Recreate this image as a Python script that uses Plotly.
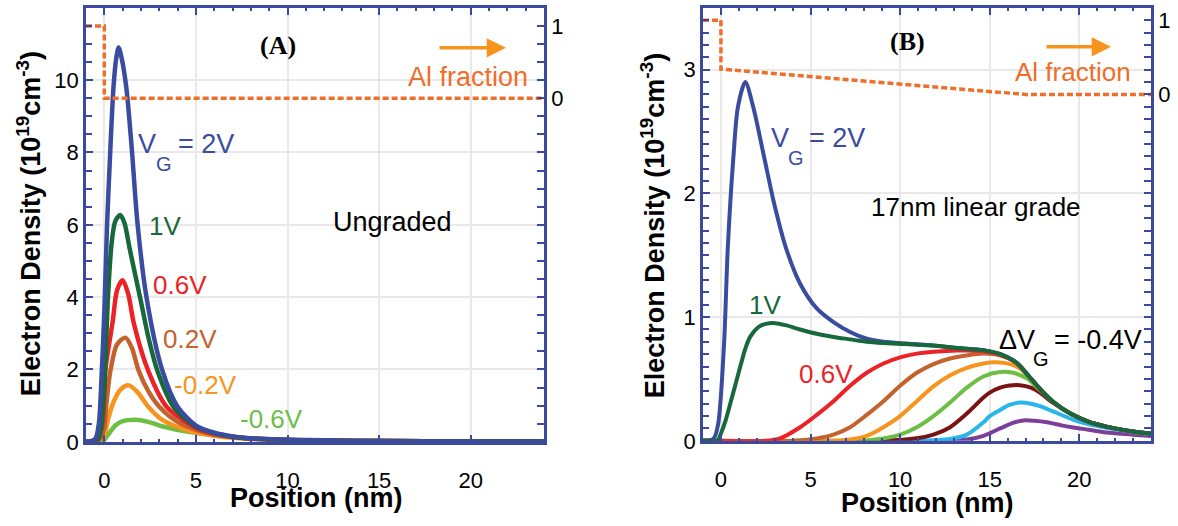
import plotly.graph_objects as go

W, H = 1178, 526

FRAME = "#3B4A9E"
GRID = "#E9E9E9"
FONT = "Liberation Sans, Arial, sans-serif"

# ---------------- Panel A: ungraded barrier ----------------
a_pos_2v = [-1, -0.5, -0.3, -0.15, 0, 0.15, 0.33, 0.5, 0.65, 0.78, 0.95, 1.2, 1.5, 1.8, 2.3, 3.15, 4.0, 5.0, 6.0, 7.0, 8.0, 10, 12, 15, 20, 24]
a_n_2v = [0, 0.08, 0.5, 1.8, 3.6, 6.0, 8.1, 9.8, 10.6, 10.9, 10.6, 9.8, 8.1, 6.1, 4.0, 2.0, 0.97, 0.45, 0.25, 0.15, 0.1, 0.06, 0.04, 0.02, 0.01, 0.005]

a_pos_1v = [-1, -0.4, -0.2, 0, 0.2, 0.4, 0.6, 0.87, 1.1, 1.4, 1.97, 2.4, 2.9, 3.8, 5, 6, 7, 8, 10, 12, 15, 20, 24]
a_n_1v = [0, 0.03, 0.3, 1.5, 4.0, 5.5, 6.1, 6.27, 6.05, 5.3, 3.95, 2.9, 1.96, 0.95, 0.42, 0.24, 0.14, 0.09, 0.05, 0.035, 0.02, 0.01, 0.005]

a_pos_06v = [-1, -0.4, -0.1, 0.05, 0.45, 0.7, 1.0, 1.3, 1.6, 2.4, 3.4, 5, 6, 7, 8, 10, 12, 15, 20, 24]
a_n_06v = [0, 0.02, 0.5, 1.96, 3.3, 4.2, 4.47, 4.1, 3.3, 1.96, 0.97, 0.38, 0.22, 0.14, 0.09, 0.05, 0.035, 0.02, 0.01, 0.005]

a_pos_02v = [-1, -0.3, 0, 0.1, 0.33, 0.7, 1.15, 1.5, 1.88, 2.4, 3.0, 4.0, 5.0, 6, 7, 8, 10, 12, 15, 20, 24]
a_n_02v = [0, 0.02, 0.4, 0.97, 1.96, 2.7, 2.88, 2.6, 1.96, 1.4, 0.97, 0.55, 0.33, 0.2, 0.13, 0.09, 0.05, 0.03, 0.02, 0.01, 0.005]

a_pos_m02v = [-1, -0.2, 0, 0.2, 0.5, 0.9, 1.33, 1.8, 2.4, 3.15, 4.4, 6, 8, 10, 12, 15, 20, 24]
a_n_m02v = [0, 0.01, 0.16, 0.61, 1.1, 1.45, 1.56, 1.38, 0.97, 0.61, 0.34, 0.17, 0.08, 0.05, 0.03, 0.02, 0.01, 0.005]

a_pos_m06v = [-1, -0.1, 0.15, 0.6, 1.0, 1.7, 2.4, 3.15, 4.8, 6.5, 8, 10, 12, 15, 20, 24]
a_n_m06v = [0, 0.0, 0.16, 0.45, 0.57, 0.61, 0.55, 0.43, 0.26, 0.15, 0.09, 0.05, 0.03, 0.02, 0.01, 0.005]

a_al_pos = [-1, 0, 0, 24]
a_al_frac = [1, 1, 0, 0]

# ---------------- Panel B: 17 nm linear grade ----------------
b_pos_2v = [-1, -0.4, -0.15, 0.18, 0.38, 0.7, 0.95, 1.36, 1.8, 2.4, 3.0, 3.65, 4.42, 5.35, 6.28, 7.21, 8.14, 9.07, 10.5, 11.86, 13.2, 14.65, 15.6, 16.5, 17.2, 17.8, 18.5, 19.5, 20.5, 21.5, 23, 24]
b_n_2v = [0, 0.02, 0.14, 0.8, 1.55, 2.3, 2.7, 2.9, 2.7, 2.3, 1.9, 1.55, 1.27, 1.07, 0.96, 0.88, 0.825, 0.80, 0.785, 0.77, 0.75, 0.733, 0.70, 0.63, 0.52, 0.42, 0.32, 0.22, 0.155, 0.115, 0.075, 0.058]

b_pos_1v = [-1, -0.2, 0.0, 0.25, 0.52, 0.8, 1.08, 1.35, 1.63, 2.1, 2.5, 3.03, 3.6, 4.42, 5.35, 6.28, 7.21, 8.14, 9.07, 10.5, 11.86, 13.2, 14.65, 15.6, 16.5, 17.2, 17.8, 18.5, 19.5, 20.5, 21.5, 23, 24]
b_n_1v = [0, 0, 0.06, 0.16, 0.30, 0.45, 0.6, 0.74, 0.84, 0.92, 0.945, 0.951, 0.935, 0.90, 0.865, 0.84, 0.82, 0.80, 0.79, 0.78, 0.77, 0.75, 0.733, 0.70, 0.63, 0.52, 0.42, 0.32, 0.22, 0.155, 0.115, 0.075, 0.058]

b_pos_06v = [-1, 2.5, 3.3, 4.42, 5.35, 6.28, 7.21, 8.14, 9.07, 10, 10.93, 11.86, 13.2, 14.65, 15.6, 16.5, 17.2, 17.8, 18.5, 19.5, 20.5, 21.5, 23, 24]
b_n_06v = [0, 0, 0.02, 0.11, 0.21, 0.32, 0.445, 0.55, 0.625, 0.675, 0.705, 0.72, 0.73, 0.725, 0.695, 0.63, 0.52, 0.42, 0.32, 0.22, 0.155, 0.115, 0.075, 0.058]

b_pos_02v = [-1, 4.0, 5.35, 6.28, 7.21, 8.14, 9.07, 10, 10.93, 11.86, 12.79, 13.7, 14.65, 15.6, 16.5, 17.2, 17.8, 18.5, 19.5, 20.5, 21.5, 23, 24]
b_n_02v = [0, 0, 0.02, 0.05, 0.11, 0.21, 0.32, 0.445, 0.55, 0.62, 0.665, 0.69, 0.705, 0.69, 0.63, 0.52, 0.42, 0.32, 0.22, 0.155, 0.115, 0.075, 0.058]

b_pos_m02v = [-1, 6.0, 7.21, 8.14, 9.07, 10, 10.93, 11.86, 12.79, 13.72, 14.65, 15.2, 15.8, 16.5, 17.2, 17.8, 18.5, 19.5, 20.5, 21.5, 23, 24]
b_n_m02v = [0, 0, 0.01, 0.04, 0.11, 0.2, 0.32, 0.44, 0.53, 0.59, 0.625, 0.635, 0.63, 0.60, 0.52, 0.42, 0.32, 0.22, 0.155, 0.115, 0.075, 0.058]

b_pos_m06v = [-1, 7.5, 9.07, 10, 10.93, 11.86, 12.79, 13.72, 14.65, 15.58, 16.3, 17.07, 17.8, 18.5, 19.5, 20.5, 21.5, 23, 24]
b_n_m06v = [0, 0, 0.02, 0.05, 0.11, 0.2, 0.31, 0.43, 0.52, 0.556, 0.55, 0.505, 0.41, 0.32, 0.22, 0.155, 0.115, 0.075, 0.058]

b_pos_m10v = [-1, 9.0, 10.93, 11.86, 12.79, 13.72, 14.65, 15.0, 15.58, 16.1, 16.69, 17.3, 17.8, 18.5, 19.5, 20.5, 21.5, 23, 24]
b_n_m10v = [0, 0, 0.02, 0.05, 0.11, 0.22, 0.35, 0.39, 0.43, 0.447, 0.45, 0.43, 0.39, 0.31, 0.22, 0.155, 0.115, 0.075, 0.058]

b_pos_m14v = [-1, 10.5, 12.79, 13.72, 14.65, 15.0, 15.58, 16.1, 16.69, 17.3, 17.8, 18.5, 19.67, 20.5, 21.5, 23, 24]
b_n_m14v = [0, 0, 0.015, 0.05, 0.15, 0.20, 0.25, 0.29, 0.31, 0.30, 0.28, 0.24, 0.17, 0.135, 0.105, 0.072, 0.056]

b_pos_m18v = [-1, 12.0, 13.72, 14.65, 15.58, 16.3, 16.88, 17.5, 18.2, 19.0, 19.67, 20.5, 21.5, 23, 24]
b_n_m18v = [0, 0, 0.01, 0.04, 0.10, 0.145, 0.165, 0.162, 0.15, 0.125, 0.108, 0.09, 0.068, 0.05, 0.04]

b_al_pos = [-1, 0, 0, 17, 24]
b_al_frac = [1, 1, 0.34, 0, 0]

C_2V = "#3A4CA0"
C_1V = "#17683A"
C_06V = "#EC2227"
C_02V = "#C4622D"
C_M02V = "#F7941E"
C_M06V = "#6DBE45"
C_M10V = "#7A1315"
C_M14V = "#29B6EA"
C_M18V = "#7B3F99"
C_AL = "#EF6E2A"
C_ARROW = "#F7941D"

fig = go.Figure()


def curve(x, y, color, width, xa, ya):
    fig.add_trace(go.Scatter(
        x=x, y=y, mode="lines", xaxis=xa, yaxis=ya,
        line=dict(color=color, width=width, shape="spline", smoothing=0.8),
        showlegend=False, hoverinfo="skip"))


def al_line(x, y, xa, ya):
    fig.add_trace(go.Scatter(
        x=x, y=y, mode="lines", xaxis=xa, yaxis=ya,
        line=dict(color=C_AL, width=3.5, dash="6px,3px"),
        showlegend=False, hoverinfo="skip"))


# panel A curves
for xs, ys, c in [
    (a_pos_m06v, a_n_m06v, C_M06V),
    (a_pos_m02v, a_n_m02v, C_M02V),
    (a_pos_02v, a_n_02v, C_02V),
    (a_pos_06v, a_n_06v, C_06V),
    (a_pos_1v, a_n_1v, C_1V),
    (a_pos_2v, a_n_2v, C_2V),
]:
    curve(xs, ys, c, 4.5, "x", "y")
al_line(a_al_pos, a_al_frac, "x", "y3")

# panel B curves
for xs, ys, c in [
    (b_pos_m18v, b_n_m18v, C_M18V),
    (b_pos_m14v, b_n_m14v, C_M14V),
    (b_pos_m10v, b_n_m10v, C_M10V),
    (b_pos_m06v, b_n_m06v, C_M06V),
    (b_pos_m02v, b_n_m02v, C_M02V),
    (b_pos_02v, b_n_02v, C_02V),
    (b_pos_06v, b_n_06v, C_06V),
    (b_pos_2v, b_n_2v, C_2V),
    (b_pos_1v, b_n_1v, C_1V),
]:
    curve(xs, ys, c, 4, "x2", "y2")
al_line(b_al_pos, b_al_frac, "x2", "y4")


def px_x(p):
    return p / W


def px_y(p):
    return 1 - p / H


tickfont = dict(family=FONT, size=22, color="black")


def x_axis(dom, anchor):
    return dict(
        domain=dom, anchor=anchor, range=[-1, 24],
        tickvals=[0, 5, 10, 15, 20], ticks="inside", ticklen=7, tickwidth=1.5,
        tickcolor=FRAME, minor=dict(ticks="inside", dtick=1, tick0=0, ticklen=3,
                                    tickwidth=1.5, tickcolor=FRAME, showgrid=False),
        showline=True, linecolor=FRAME, linewidth=2.5, mirror="ticks",
        showgrid=True, gridcolor=GRID, gridwidth=1.5, zeroline=False,
        tickfont=tickfont, ticklabelstandoff=17, fixedrange=True)


def y_axis(dom, anchor, rng, vals, minor_dt):
    return dict(
        domain=dom, anchor=anchor, range=rng, tickvals=vals,
        ticks="inside", ticklen=7, tickwidth=1.5, tickcolor=FRAME,
        minor=dict(ticks="inside", dtick=minor_dt, tick0=0, ticklen=6,
                   tickwidth=1.5, tickcolor=FRAME, showgrid=False),
        showline=True, linecolor=FRAME, linewidth=2.5, mirror=False,
        showgrid=True, gridcolor=GRID, gridwidth=1.5, zeroline=False,
        tickfont=tickfont, ticklabelstandoff=0, fixedrange=True)


def al_axis(overlay, anchor, rng, step):
    vals = []
    k = 0
    v = 0.0
    while v > rng[0]:
        vals.append(round(v, 6))
        k -= 1
        v = k * step
    k = 1
    v = step
    while v < rng[1]:
        vals.append(round(v, 6))
        k += 1
        v = k * step
    vals.sort()
    text = ["1" if abs(t - 1) < 1e-6 else ("0" if abs(t) < 1e-6 else "") for t in vals]
    return dict(
        overlaying=overlay, anchor=anchor, side="right", range=rng,
        tickvals=vals, ticktext=text, ticks="inside", ticklen=7, tickwidth=1.5,
        tickcolor=FRAME, showline=True, linecolor=FRAME, linewidth=2.5,
        showgrid=False, zeroline=False, tickfont=tickfont,
        ticklabelstandoff=0, fixedrange=True)


xdomA = [px_x(86), px_x(544)]
xdomB = [px_x(703), px_x(1151)]
ydomA = [px_y(453), px_y(8)]
ydomB = [px_y(452), px_y(8)]

fig.update_layout(
    width=W, height=H, margin=dict(l=0, r=0, t=0, b=0),
    paper_bgcolor="white", plot_bgcolor="white",
    xaxis=x_axis(xdomA, "y"),
    yaxis=y_axis(ydomA, "x", [0, 12], [0, 2, 4, 6, 8, 10], 0.5),
    yaxis3=al_axis("y", "x", [-4.75, 1.25], 0.25),
    xaxis2=x_axis(xdomB, "y2"),
    yaxis2=y_axis(ydomB, "x2", [0, 3.5], [0, 1, 2, 3], 0.1),
    yaxis4=al_axis("y2", "x2", [-14 / 3, 7 / 6], 1 / 6),
)

anns = []


def text(s, x, y, color="black", size=25, xanchor="left", bold=False,
         family=FONT, angle=0):
    anns.append(dict(
        text=f"<b>{s}</b>" if bold else s, x=px_x(x), y=px_y(y),
        xref="paper", yref="paper", xanchor=xanchor, yanchor="middle",
        showarrow=False, textangle=angle,
        font=dict(family=family, size=size, color=color)))


def arrow(x0, x1, y):
    anns.append(dict(
        x=px_x(x1), y=px_y(y), ax=-(x1 - x0), ay=0,
        xref="paper", yref="paper", axref="pixel", ayref="pixel",
        text="", showarrow=True, arrowhead=2, arrowsize=1.1,
        arrowwidth=3.5, arrowcolor=C_ARROW))


# axis titles
ytitle = "Electron Density (10<sup>19</sup>cm<sup>-3</sup>)"
text(ytitle, 29, 230, size=27, xanchor="center", bold=True, angle=-90)
text(ytitle, 653, 232, size=27, xanchor="center", bold=True, angle=-90)
text("Position (nm)", 316, 511, size=27, xanchor="center", bold=True)
text("Position (nm)", 927, 516, size=27, xanchor="center", bold=True)

# panel A labels
text("(A)", 278, 47, size=26, xanchor="center", bold=True,
     family="Liberation Serif, Times New Roman, serif")
arrow(438, 506, 49)
text("Al fraction", 468, 79, color=C_AL, size=27, xanchor="center")
text("Ungraded", 392, 228, size=27, xanchor="center")
text("V", 136, 148, color=C_2V, size=27)
text("G", 154, 168, color=C_2V, size=20)
text("= 2V", 176, 148, color=C_2V, size=27)
text("1V", 147, 232, color=C_1V, size=26)
text("0.6V", 151, 292, color=C_06V, size=26)
text("0.2V", 161, 348, color=C_02V, size=26)
text("-0.2V", 172, 395, color=C_M02V, size=26)
text("-0.6V", 238, 430, color=C_M06V, size=26)

# panel B labels
text("(B)", 907, 43, size=26, xanchor="center", bold=True,
     family="Liberation Serif, Times New Roman, serif")
arrow(1045, 1111, 48)
text("Al fraction", 1073, 74, color=C_AL, size=26, xanchor="center")
text("17nm linear grade", 976, 212, size=26, xanchor="center")
text("V", 769, 141, color=C_2V, size=27)
text("G", 786, 162, color=C_2V, size=20)
text("= 2V", 807, 141, color=C_2V, size=27)
text("1V", 747, 313, color=C_1V, size=26)
text("0.6V", 797, 383, color=C_06V, size=26)
text("\u0394V", 997, 349, size=27)
text("G", 1031, 368, size=20)
text("= -0.4V", 1052, 349, size=27)

fig.update_layout(annotations=anns)

fig.write_html("out.html")
